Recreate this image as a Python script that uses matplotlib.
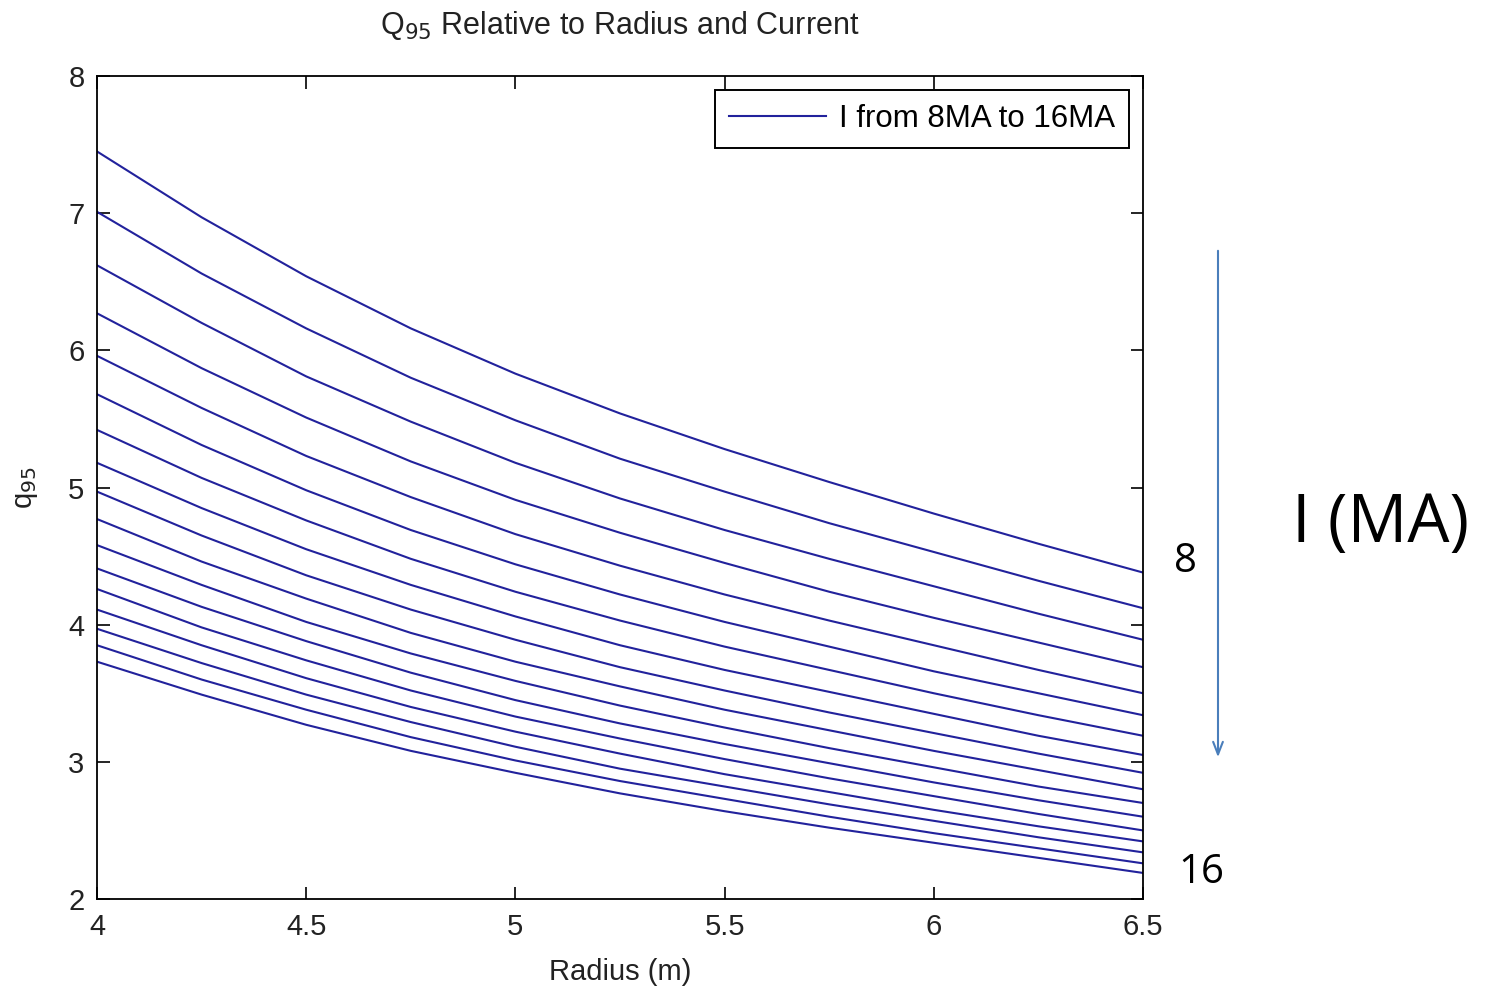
import matplotlib
matplotlib.use("Agg")
import matplotlib.pyplot as plt

plt.rcParams['font.family'] = ['Liberation Sans', 'DejaVu Sans']

radius = [4.0, 4.25, 4.5, 4.75, 5.0, 5.25, 5.5, 5.75, 6.0, 6.25, 6.5]
currents = [8, 8.5, 9, 9.5, 10, 10.5, 11, 11.5, 12, 12.5, 13, 13.5, 14, 14.5, 15, 15.5, 16]

q_8_0 = [7.45, 6.97, 6.54, 6.16, 5.83, 5.54, 5.28, 5.04, 4.81, 4.59, 4.38]
q_8_5 = [7.01, 6.56, 6.16, 5.80, 5.49, 5.21, 4.97, 4.74, 4.53, 4.32, 4.12]
q_9_0 = [6.62, 6.20, 5.81, 5.48, 5.18, 4.92, 4.69, 4.48, 4.28, 4.08, 3.89]
q_9_5 = [6.27, 5.87, 5.51, 5.19, 4.91, 4.67, 4.45, 4.24, 4.05, 3.87, 3.69]
q_10_0 = [5.96, 5.58, 5.23, 4.93, 4.66, 4.43, 4.22, 4.03, 3.85, 3.67, 3.50]
q_10_5 = [5.68, 5.31, 4.98, 4.69, 4.44, 4.22, 4.02, 3.84, 3.66, 3.50, 3.34]
q_11_0 = [5.42, 5.07, 4.76, 4.48, 4.24, 4.03, 3.84, 3.67, 3.50, 3.34, 3.19]
q_11_5 = [5.18, 4.85, 4.55, 4.29, 4.06, 3.85, 3.67, 3.51, 3.35, 3.19, 3.05]
q_12_0 = [4.97, 4.65, 4.36, 4.11, 3.89, 3.69, 3.52, 3.36, 3.21, 3.06, 2.92]
q_12_5 = [4.77, 4.46, 4.19, 3.94, 3.73, 3.55, 3.38, 3.23, 3.08, 2.94, 2.80]
q_13_0 = [4.58, 4.29, 4.02, 3.79, 3.59, 3.41, 3.25, 3.10, 2.96, 2.82, 2.70]
q_13_5 = [4.41, 4.13, 3.88, 3.65, 3.45, 3.28, 3.13, 2.99, 2.85, 2.72, 2.60]
q_14_0 = [4.26, 3.98, 3.74, 3.52, 3.33, 3.17, 3.02, 2.88, 2.75, 2.62, 2.50]
q_14_5 = [4.11, 3.85, 3.61, 3.40, 3.22, 3.06, 2.91, 2.78, 2.65, 2.53, 2.42]
q_15_0 = [3.97, 3.72, 3.49, 3.29, 3.11, 2.95, 2.82, 2.69, 2.57, 2.45, 2.34]
q_15_5 = [3.85, 3.60, 3.38, 3.18, 3.01, 2.86, 2.73, 2.60, 2.48, 2.37, 2.26]
q_16_0 = [3.73, 3.49, 3.27, 3.08, 2.92, 2.77, 2.64, 2.52, 2.41, 2.30, 2.19]

series = [q_8_0, q_8_5, q_9_0, q_9_5, q_10_0, q_10_5, q_11_0, q_11_5, q_12_0,
          q_12_5, q_13_0, q_13_5, q_14_0, q_14_5, q_15_0, q_15_5, q_16_0]

xticks = [4, 4.5, 5, 5.5, 6, 6.5]
xticklabels = ['4', '4.5', '5', '5.5', '6', '6.5']
yticks = [2, 3, 4, 5, 6, 7, 8]

W, H = 1487, 989
fig = plt.figure(figsize=(W / 100, H / 100), dpi=100)
ax = fig.add_axes([97 / W, 1 - 899 / H, (1143 - 97) / W, (899 - 76) / H])

line_color = '#22229c'
for i, q in enumerate(series):
    ax.plot(radius, q, color=line_color, lw=1.5,
            label='I from 8MA to 16MA' if i == 0 else None)

ax.set_xlim(4, 6.5)
ax.set_ylim(2, 8)
ax.set_xticks(xticks)
ax.set_xticklabels(xticklabels)
ax.set_yticks(yticks)
ax.tick_params(direction='in', length=9, width=1.2, top=True, right=True,
               labelsize=21, labelcolor='#222222')
ax.tick_params(axis='x', pad=10)
ax.tick_params(axis='y', pad=9)
for s in ax.spines.values():
    s.set_linewidth(1.3)

ax.set_title(r'Q$_{95}$ Relative to Radius and Current', fontsize=22, pad=30,
             color='#222222')
ax.set_xlabel('Radius (m)', fontsize=21, labelpad=12, color='#222222')
ax.set_ylabel(r'q$_{95}$', fontsize=21, labelpad=20, color='#222222')

leg = ax.legend(loc='upper right', fontsize=22.5, handlelength=3.1,
                handletextpad=0.4, borderpad=0.45, fancybox=False,
                framealpha=1, edgecolor='black', borderaxespad=0.45)
leg.get_frame().set_linewidth(1.4)

# annotations outside axes
arrow_color = '#4a7ebb'
ax.annotate('', xy=(1218, H - 760), xytext=(1218, H - 248),
            xycoords='figure pixels', textcoords='figure pixels',
            arrowprops=dict(arrowstyle='->,head_width=0.35,head_length=0.9',
                        color=arrow_color, lw=1.5))
fig.text(1186 / W, 1 - 562 / H, '8', fontsize=29, ha='center', va='center',
         family=['Open Sans', 'DejaVu Sans'])
fig.text(1201 / W, 1 - 873 / H, '16', fontsize=29, ha='center', va='center',
         family=['Open Sans', 'DejaVu Sans'])
fig.text(1381 / W, 1 - 524 / H, 'I (MA)', fontsize=48, ha='center', va='center',
         family=['Open Sans', 'DejaVu Sans'])

fig.savefig('out.png', dpi=100)
